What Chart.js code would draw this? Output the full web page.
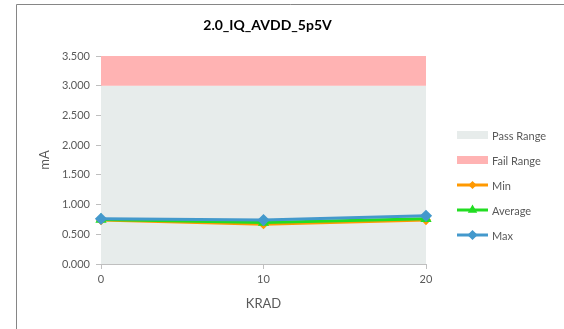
<!DOCTYPE html>
<html>
<head>
<meta charset="utf-8">
<script src="https://cdn.jsdelivr.net/npm/chart.js@4.4.0/dist/chart.umd.min.js"></script>
<style>
    html, body { margin: 0; padding: 0; background: #fff; }
    #wrap { width: 564px; height: 329px; position: relative; }
</style>
</head>
<body>
<div id="wrap"><canvas id="iqChart"></canvas></div>
<script>
// Chart data
const chartTitle = '2.0_IQ_AVDD_5p5V';
const krad = ['0', '10', '20'];
const passLimit = [3.0, 3.0, 3.0];
const failLimit = [3.5, 3.5, 3.5];
const minValues = [0.74, 0.67, 0.74];
const avgValues = [0.75, 0.70, 0.76];
const maxValues = [0.76, 0.74, 0.81];
const yTicks = [0, 0.5, 1.0, 1.5, 2.0, 2.5, 3.0, 3.5];

const FONT = 'Lato, "Open Sans", sans-serif';
const TEXT = '#595959';

// Frame, title and legend drawn around the plot
const decorPlugin = {
    id: 'decor',
    beforeDraw(chart) {
        const ctx = chart.ctx;
        ctx.save();
        ctx.strokeStyle = '#868686';
        ctx.lineWidth = 1;
        ctx.beginPath();
        ctx.moveTo(16.5, chart.height);
        ctx.lineTo(16.5, 4.5);
        ctx.lineTo(chart.width, 4.5);
        ctx.stroke();
        ctx.restore();
    },
    afterDraw(chart) {
        const ctx = chart.ctx;
        const area = chart.chartArea;
        ctx.save();
        ctx.fillStyle = '#000';
        ctx.font = 'bold 14px ' + FONT;
        ctx.textAlign = 'center';
        ctx.textBaseline = 'middle';
        ctx.fillText(chartTitle, (area.left + area.right) / 2 + 4, 25);

        // legend
        ctx.font = '11px ' + FONT;
        ctx.textAlign = 'left';
        const x0 = 457, x1 = 488;
        chart.data.datasets.forEach((ds, i) => {
            const y = 135 + i * 25;
            if (ds.fill) {
                ctx.fillStyle = ds.backgroundColor;
                ctx.fillRect(x0, y - 4, x1 - x0, 8);
            } else {
                ctx.strokeStyle = ds.borderColor;
                ctx.lineWidth = 3;
                ctx.beginPath();
                ctx.moveTo(x0, y);
                ctx.lineTo(x1, y);
                ctx.stroke();
                ctx.fillStyle = ds.borderColor;
                Chart.helpers.drawPoint(ctx, {
                    pointStyle: ds.pointStyle,
                    radius: ds.pointRadius - 1,
                    rotation: 0,
                    borderWidth: 1
                }, (x0 + x1) / 2, y);
                ctx.fill();
            }
            ctx.fillStyle = TEXT;
            ctx.fillText(ds.label, 492, y + 1);
        });
        ctx.restore();
    }
};

function lineSeries(label, data, color, style, radius, order) {
    return {
        label: label,
        data: data,
        borderColor: color,
        backgroundColor: color,
        pointBackgroundColor: color,
        pointBorderColor: color,
        borderWidth: 3,
        pointStyle: style,
        pointRadius: radius,
        fill: false,
        tension: 0,
        order: order
    };
}

new Chart(document.getElementById('iqChart'), {
    type: 'line',
    data: {
        labels: krad,
        datasets: [{
            label: 'Pass Range',
            data: passLimit,
            backgroundColor: '#E7ECEB',
            borderWidth: 0,
            pointRadius: 0,
            fill: 'origin',
            order: 4
        }, {
            label: 'Fail Range',
            data: failLimit,
            backgroundColor: '#FFB3B3',
            borderWidth: 0,
            pointRadius: 0,
            fill: '-1',
            order: 3
        },
            lineSeries('Min', minValues, '#FF9900', 'rectRot', 3, 2),
            lineSeries('Average', avgValues, '#22DD22', 'triangle', 3.5, 1),
            lineSeries('Max', maxValues, '#4499CC', 'rectRot', 4, 0)
        ]
    },
    options: {
        responsive: true,
        maintainAspectRatio: false,
        animation: false,
        layout: {
            padding: { left: 22, right: 138, top: 56, bottom: 0 }
        },
        plugins: {
            legend: { display: false },
            tooltip: { enabled: false }
        },
        scales: {
            x: {
                offset: false,
                grid: { drawOnChartArea: false, tickLength: 5, color: '#BFBFBF' },
                border: { color: '#BFBFBF' },
                ticks: { color: TEXT, font: { family: FONT, size: 11 }, padding: 4, maxRotation: 0 },
                title: {
                    display: true, text: 'KRAD', color: TEXT,
                    font: { family: FONT, size: 13 }, padding: { top: 6, bottom: 17 }
                },
                afterFit(scale) { scale.height = 65; }
            },
            y: {
                min: 0,
                max: 3.5,
                afterBuildTicks(scale) { scale.ticks = yTicks.map(v => ({ value: v })); },
                grid: { drawOnChartArea: false, tickLength: 5, color: '#BFBFBF' },
                border: { color: '#BFBFBF' },
                ticks: {
                    color: TEXT, font: { family: FONT, size: 11 }, padding: 6,
                    callback: v => Number(v).toFixed(3)
                },
                title: {
                    display: true, text: 'mA', color: TEXT,
                    font: { family: FONT, size: 13 }, padding: { top: 15, bottom: 0 }
                },
                afterFit(scale) { scale.width = 101 - 22; }
            }
        }
    },
    plugins: [decorPlugin]
});
</script>
</body>
</html>
